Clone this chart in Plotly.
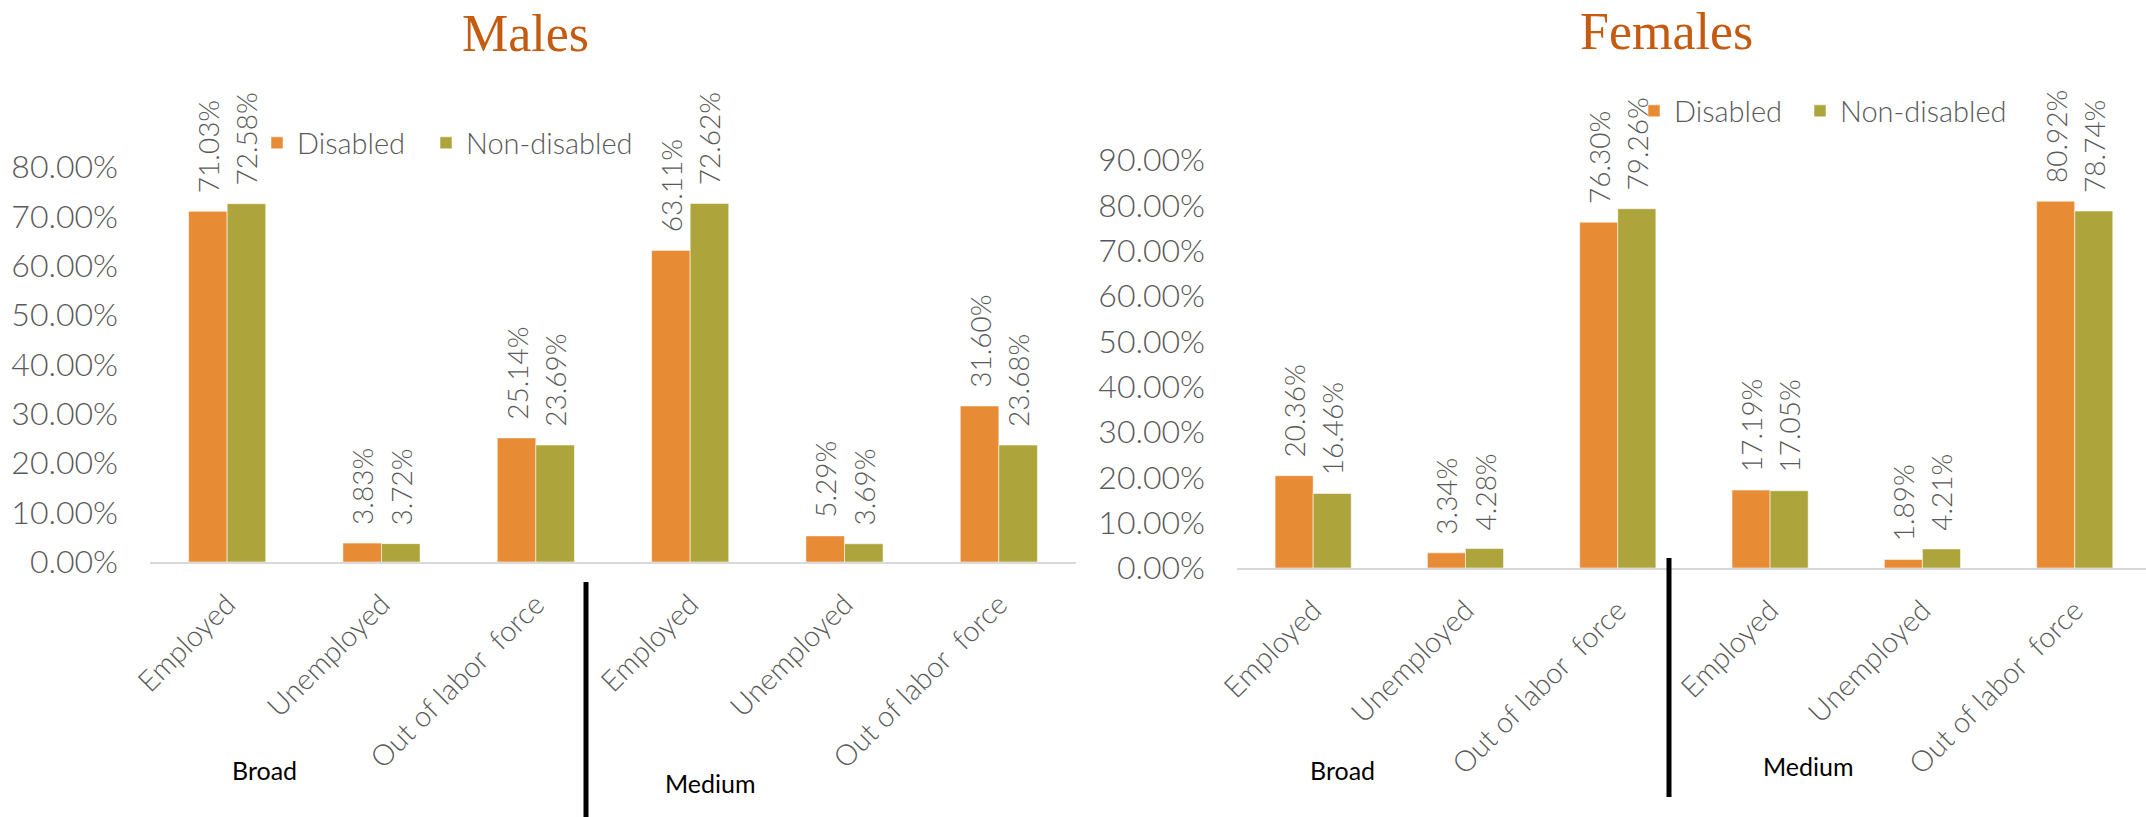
import plotly.graph_objects as go

# ---------------- data ----------------
categories = ["Employed", "Unemployed", "Out of labor\u00a0 force",
              "Employed", "Unemployed", "Out of labor\u00a0 force"]
groups = ["Broad", "Medium"]
series_names = ["Disabled", "Non-disabled"]

males_disabled = [0.7103, 0.0383, 0.2514, 0.6311, 0.0529, 0.3160]
males_nondisabled = [0.7258, 0.0372, 0.2369, 0.7262, 0.0369, 0.2368]
females_disabled = [0.2036, 0.0334, 0.7630, 0.1719, 0.0189, 0.8092]
females_nondisabled = [0.1646, 0.0428, 0.7926, 0.1705, 0.0421, 0.7874]

males_ticks = [0.0, 0.1, 0.2, 0.3, 0.4, 0.5, 0.6, 0.7, 0.8]
females_ticks = [0.0, 0.1, 0.2, 0.3, 0.4, 0.5, 0.6, 0.7, 0.8, 0.9]

# ---------------- styling ----------------
W, H = 2146, 817
FONT = "Lato"
GRAY = "#595959"
COLORS = ["#E88B35", "#ADA43C"]
TITLE_COLOR = "#C55A11"


def px(x):
    return x / W


def py(y):
    return 1 - y / H


positions = list(range(len(categories)))

fig = go.Figure()

panels = [
    ([males_disabled, males_nondisabled], "x", "y", ["legend", "legend3"]),
    ([females_disabled, females_nondisabled], "x2", "y2", ["legend2", "legend4"]),
]
for series, xa, ya, lgs in panels:
    for vals, name, color, lg in zip(series, series_names, COLORS, lgs):
        fig.add_trace(go.Bar(
            x=positions, y=vals, name=name,
            marker=dict(color=color, line=dict(color="rgba(255,255,255,0.55)", width=1)),
            texttemplate="\u00a0\u00a0%{y:.2%}", textposition="outside", textangle=-90,
            textfont=dict(family=FONT, size=28, color=GRAY, weight=300),
            cliponaxis=False, constraintext="none",
            xaxis=xa, yaxis=ya, legend=lg, hoverinfo="skip",
        ))

xcommon = dict(
    tickmode="array", tickvals=positions, ticktext=categories, tickangle=-45,
    showline=True, linecolor="#D9D9D9", linewidth=2, showgrid=False,
    zeroline=False, ticks="", ticklabelstandoff=12, automargin=False,
    tickfont=dict(family=FONT, size=29, color=GRAY, weight=300),
)
ycommon = dict(
    tickformat=".2%", showgrid=False, zeroline=False, showline=False,
    ticks="", ticklabelstandoff=31, automargin=False,
    tickfont=dict(family=FONT, size=32, color=GRAY, weight=300),
)

legend_common = dict(xanchor="left", yanchor="middle", orientation="h",
                     bgcolor="rgba(0,0,0,0)",
                     font=dict(family=FONT, size=29, color=GRAY, weight=300))

fig.update_layout(
    width=W, height=H,
    margin=dict(l=0, r=0, t=0, b=0, autoexpand=False),
    paper_bgcolor="white", plot_bgcolor="white",
    barmode="group", bargap=0.5, bargroupgap=0,
    showlegend=True,
    xaxis=dict(domain=[px(150), px(1076)], range=[-0.5, 5.5], anchor="y", **xcommon),
    yaxis=dict(domain=[py(562), py(167)], range=[0, 0.8001], anchor="x",
               tickmode="array", tickvals=males_ticks, **ycommon),
    xaxis2=dict(domain=[px(1237), 1.0], range=[-0.5, 5.468], anchor="y2", **xcommon),
    yaxis2=dict(domain=[py(568), py(160)], range=[0, 0.9001], anchor="x2",
                tickmode="array", tickvals=females_ticks, **ycommon),
    legend=dict(x=px(257), y=py(143), **legend_common),
    legend3=dict(x=px(426), y=py(143), **legend_common),
    legend2=dict(x=px(1634), y=py(111), **legend_common),
    legend4=dict(x=px(1800), y=py(111), **legend_common),
)

# titles
fig.add_annotation(text="Males", x=px(525), y=py(33), xref="paper", yref="paper",
                   showarrow=False, xanchor="center", yanchor="middle",
                   font=dict(family="Liberation Serif", size=52, color=TITLE_COLOR))
fig.add_annotation(text="Females", x=px(1666), y=py(32), xref="paper", yref="paper",
                   showarrow=False, xanchor="center", yanchor="middle",
                   font=dict(family="Liberation Serif", size=52, color=TITLE_COLOR))

# group labels
group_pos = [(groups[0], 264, 770), (groups[1], 710, 783),
             (groups[0], 1342, 770), (groups[1], 1808, 766)]
for txt, gx, gy in group_pos:
    fig.add_annotation(text=txt, x=px(gx), y=py(gy), xref="paper", yref="paper",
                       showarrow=False, xanchor="center", yanchor="middle",
                       font=dict(family=FONT, size=25, color="black"))

# separators
for sx, y0, y1 in [(586, 582, 817), (1669, 558, 797)]:
    fig.add_shape(type="line", xref="paper", yref="paper",
                  x0=px(sx), x1=px(sx), y0=py(y1), y1=py(y0),
                  line=dict(color="black", width=5))

fig.write_html("out.html", config={"displayModeBar": False},
               post_script="document.body.style.margin='0';document.body.style.overflow='hidden';")
